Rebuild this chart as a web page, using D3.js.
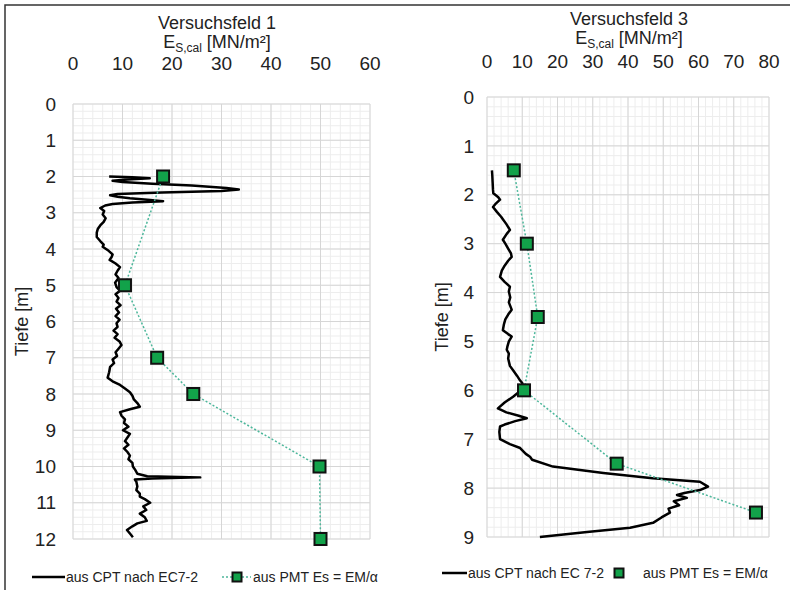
<!DOCTYPE html>
<html>
<head>
<meta charset="utf-8">
<script src="https://cdn.jsdelivr.net/npm/d3@7"></script>
<style>
  body { margin: 0; background: #fff; }
  svg text { font-family: "Liberation Sans", Arial, sans-serif; fill: #222; }
</style>
</head>
<body>
<div id="chart-area"></div>
<script>
// Versuchsfeld 1: CPT curve [Tiefe m, Es MN/m²]
const cpt1 = [
  [2.00,7.3],[2.02,12],[2.05,15.5],[2.08,11],[2.12,8.0],[2.15,10],[2.20,16],[2.25,24],[2.32,31],[2.36,33.5],
  [2.40,30],[2.44,18],[2.48,9],[2.52,7.5],[2.56,9],[2.60,11.5],[2.64,15],[2.68,18.2],[2.72,12],[2.76,8],
  [2.80,6.5],[2.87,5.5],[2.95,6.3],[3.05,6.0],[3.15,6.6],[3.25,6.2],[3.35,5.5],[3.45,5.0],[3.55,4.8],[3.67,4.8],
  [3.78,5.5],[3.88,6.2],[3.94,6.0],[4.05,7.2],[4.15,8.0],[4.22,7.8],[4.30,7.4],[4.40,8.6],[4.50,9.5],[4.60,9.0],
  [4.70,8.6],[4.80,9.2],[4.93,8.5],[5.05,8.8],[5.15,9.5],[5.25,8.6],[5.35,9.2],[5.45,8.8],[5.55,9.6],[5.65,8.7],
  [5.75,9.3],[5.85,8.6],[5.95,9.4],[6.05,8.8],[6.15,9.0],[6.25,8.2],[6.35,9.0],[6.45,8.4],[6.55,9.4],[6.65,9.8],
  [6.75,9.2],[6.85,8.6],[6.95,8.9],[7.05,8.0],[7.15,8.3],[7.25,7.5],[7.40,7.3],[7.55,7.0],[7.65,8.0],[7.75,9.5],
  [7.85,10.5],[7.95,11.5],[8.05,12.0],[8.15,12.3],[8.25,13.0],[8.35,13.5],[8.42,11.5],[8.50,9.5],[8.60,9.8],[8.70,10.5],
  [8.80,10.3],[8.90,11.2],[9.00,10.1],[9.10,11.5],[9.20,11.0],[9.30,10.5],[9.40,11.2],[9.50,10.3],[9.60,11.0],[9.70,11.5],
  [9.80,11.2],[9.90,12.0],[10.00,12.1],[10.10,12.6],[10.20,13.0],[10.27,15],[10.30,25.7],[10.33,16],[10.36,12.5],[10.42,12.8],
  [10.55,13.0],[10.65,12.8],[10.75,13.5],[10.83,13.5],[10.90,14.5],[11.00,15.6],[11.10,14.2],[11.20,14.8],[11.30,13.5],[11.40,14.5],
  [11.50,14.9],[11.57,13.0],[11.65,12.0],[11.75,10.9],[11.85,11.5],[11.95,12.1]
];
// Versuchsfeld 1: PMT points
const pmt1Depth = [2, 5, 7, 8, 10, 12];
const pmt1Es = [18.2, 10.5, 17, 24.3, 49.8, 50];

// Versuchsfeld 3: CPT curve
const cpt3 = [
  [1.50,1.4],[1.60,1.5],[1.75,1.6],[1.90,1.7],[1.97,1.8],[2.05,3.2],[2.10,3.7],[2.18,2.5],[2.25,1.7],[2.35,2.8],
  [2.45,4.0],[2.50,4.5],[2.60,5.5],[2.72,6.5],[2.80,5.6],[2.92,4.5],[3.00,5.2],[3.10,6.0],[3.20,6.8],[3.27,7.0],
  [3.35,6.0],[3.45,5.0],[3.55,4.2],[3.68,3.7],[3.78,5.0],[3.88,6.5],[3.98,6.2],[4.10,6.6],[4.20,6.2],[4.35,7.0],
  [4.45,6.0],[4.55,5.2],[4.65,4.8],[4.77,4.5],[4.85,6.0],[4.90,7.0],[5.00,6.2],[5.10,5.8],[5.17,5.6],[5.25,6.2],
  [5.35,6.0],[5.50,6.5],[5.60,7.5],[5.70,8.5],[5.80,9.4],[5.85,10.0],[5.95,10.3],[6.05,8.8],[6.13,7.4],[6.25,5.0],
  [6.37,3.1],[6.45,5.5],[6.52,9.0],[6.57,11.3],[6.63,8.0],[6.70,5.0],[6.74,3.7],[6.85,3.5],[7.00,3.7],[7.10,6.5],
  [7.18,9.4],[7.30,11.0],[7.36,12.2],[7.42,12.8],[7.56,18.7],[7.69,33],[7.80,47],[7.87,60.4],[7.97,62.7],[8.04,60.4],
  [8.10,56],[8.14,53.9],[8.20,56.7],[8.27,53.0],[8.35,54.5],[8.42,51.5],[8.50,51.9],[8.60,49.5],[8.71,47.1],[8.81,40.6],
  [8.90,28.4],[9.00,15.0]
];
// Versuchsfeld 3: PMT points
const pmt3Depth = [1.5, 3, 4.5, 6, 7.5, 8.5];
const pmt3Es = [7.6, 11.3, 14.4, 10.5, 36.8, 76.3];

const xTicks1 = [0, 10, 20, 30, 40, 50, 60];
const yTicks1 = d3.range(0, 13, 1);
const xTicks3 = [0, 10, 20, 30, 40, 50, 60, 70, 80];
const yTicks3 = d3.range(0, 10, 1);

const W = 790, H = 590;
const svg = d3.select("#chart-area").append("svg")
  .attr("width", W).attr("height", H);

// outer frame (top + left edge visible)
svg.append("path")
  .attr("d", "M5,592 L5,5 L792,5")
  .attr("fill", "none").attr("stroke", "#333").attr("stroke-width", 1.5);

function drawPanel(p) {
  let x = d3.scaleLinear().domain([0, p.xMax]).range([p.left, p.right]);
  let y = d3.scaleLinear().domain([0, p.yMax]).range([p.top, p.bottom]);
  let g = svg.append("g");

  // minor grid
  g.append("g").selectAll("line.mx")
    .data(d3.range(0, p.xMax + 0.001, 2)).enter().append("line")
    .attr("x1", d => x(d)).attr("x2", d => x(d))
    .attr("y1", p.top).attr("y2", p.bottom)
    .attr("stroke", "#ededed").attr("stroke-width", 1);
  g.append("g").selectAll("line.my")
    .data(d3.range(0, p.yMax + 0.001, 0.2)).enter().append("line")
    .attr("x1", p.left).attr("x2", p.right)
    .attr("y1", d => y(d)).attr("y2", d => y(d))
    .attr("stroke", "#ededed").attr("stroke-width", 1);
  // major grid
  g.append("g").selectAll("line")
    .data(p.xTicks).enter().append("line")
    .attr("x1", d => x(d)).attr("x2", d => x(d))
    .attr("y1", p.top).attr("y2", p.bottom)
    .attr("stroke", "#d6d6d6").attr("stroke-width", 1);
  g.append("g").selectAll("line")
    .data(p.yTicks).enter().append("line")
    .attr("x1", p.left).attr("x2", p.right)
    .attr("y1", d => y(d)).attr("y2", d => y(d))
    .attr("stroke", "#d6d6d6").attr("stroke-width", 1);

  // tick labels
  g.append("g").selectAll("text")
    .data(p.xTicks).enter().append("text")
    .attr("x", d => x(d)).attr("y", p.top - p.xLabGap)
    .attr("text-anchor", "middle").attr("font-size", "19px")
    .text(d => d);
  g.append("g").selectAll("text")
    .data(p.yTicks).enter().append("text")
    .attr("x", p.yLabX).attr("y", d => y(d)).attr("dy", "0.35em")
    .attr("text-anchor", "end").attr("font-size", "19px")
    .text(d => d);

  // titles
  g.append("text").attr("x", p.titleX).attr("y", p.titleY)
    .attr("text-anchor", "middle").attr("font-size", "18px").text(p.title);
  let t2 = g.append("text").attr("x", p.titleX).attr("y", p.titleY + 19)
    .attr("text-anchor", "middle").attr("font-size", "18px");
  t2.append("tspan").text("E");
  t2.append("tspan").attr("font-size", "12px").attr("dy", 4).text("S,cal");
  t2.append("tspan").attr("dy", -4).text(" [MN/m²]");

  g.append("text")
    .attr("transform", "translate(" + p.axLabX + "," + ((p.top + p.bottom) / 2) + ") rotate(-90)")
    .attr("text-anchor", "middle").attr("font-size", "18px")
    .text("Tiefe [m]");

  // CPT line
  let line = d3.line().x(d => x(d[1])).y(d => y(d[0]));
  g.append("path").attr("d", line(p.cpt))
    .attr("fill", "none").attr("stroke", "#000")
    .attr("stroke-width", 2.5).attr("stroke-linejoin", "round");

  // PMT dotted line + squares
  let pts = p.pmtDepth.map((d, i) => [d, p.pmtEs[i]]);
  g.append("path").attr("d", line(pts))
    .attr("fill", "none").attr("stroke", "#4db79b")
    .attr("stroke-width", 1.5).attr("stroke-dasharray", "2,2");
  g.append("g").selectAll("rect")
    .data(pts).enter().append("rect")
    .attr("x", d => x(d[1]) - 6).attr("y", d => y(d[0]) - 6)
    .attr("width", 12).attr("height", 12)
    .attr("fill", "#12a24a").attr("stroke", "#111").attr("stroke-width", 2);

  // legend
  let L = p.legend;
  g.append("line").attr("x1", L.l1).attr("x2", L.l2).attr("y1", L.y).attr("y2", L.y)
    .attr("stroke", "#000").attr("stroke-width", 2.5);
  g.append("text").attr("x", L.t1).attr("y", L.y).attr("dy", "0.35em")
    .attr("font-size", "14px").text(L.label1);
  if (L.dot) {
    g.append("line").attr("x1", L.d1).attr("x2", L.d2).attr("y1", L.y).attr("y2", L.y)
      .attr("stroke", "#4db79b").attr("stroke-width", 1.5).attr("stroke-dasharray", "2,2");
  }
  g.append("rect").attr("x", L.sq - 4.5).attr("y", L.y - 4.5)
    .attr("width", 9).attr("height", 9)
    .attr("fill", "#12a24a").attr("stroke", "#111").attr("stroke-width", 2);
  g.append("text").attr("x", L.t2).attr("y", L.y).attr("dy", "0.35em")
    .attr("font-size", "14px").text("aus PMT Es = EM/α");
}

drawPanel({
  xMax: 60, yMax: 12, left: 73, right: 370, top: 104, bottom: 539,
  xTicks: xTicks1, yTicks: yTicks1, xLabGap: 34, yLabX: 56,
  title: "Versuchsfeld 1", titleX: 217, titleY: 29, axLabX: 28,
  cpt: cpt1, pmtDepth: pmt1Depth, pmtEs: pmt1Es,
  legend: {y: 577, l1: 32, l2: 65, t1: 66, label1: "aus CPT nach EC7-2",
           dot: true, d1: 222, d2: 251, sq: 237, t2: 253}
});

drawPanel({
  xMax: 80, yMax: 9, left: 487, right: 769, top: 97, bottom: 537,
  xTicks: xTicks3, yTicks: yTicks3, xLabGap: 29, yLabX: 474,
  title: "Versuchsfeld 3", titleX: 629, titleY: 25, axLabX: 448,
  cpt: cpt3, pmtDepth: pmt3Depth, pmtEs: pmt3Es,
  legend: {y: 573, l1: 442, l2: 467, t1: 468, label1: "aus CPT nach EC 7-2",
           dot: false, sq: 619, t2: 643}
});
</script>
</body>
</html>
